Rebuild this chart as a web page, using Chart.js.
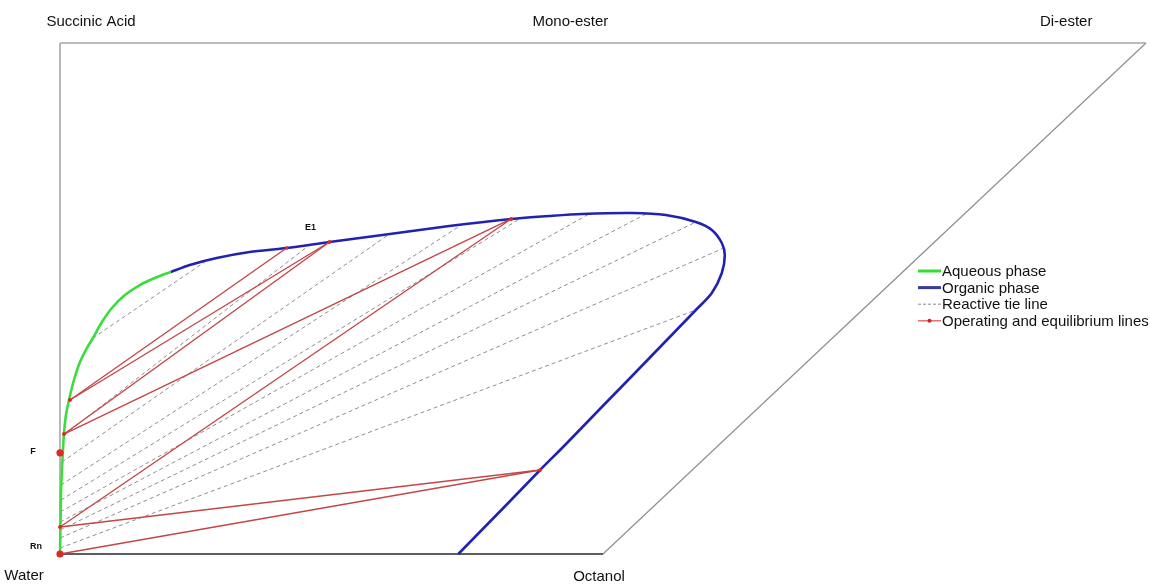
<!DOCTYPE html>
<html>
<head>
<meta charset="utf-8">
<script src="https://cdn.jsdelivr.net/npm/chart.js@4/dist/chart.umd.min.js"></script>
<style>
  html, body { margin: 0; padding: 0; background: #fff; }
  #wrap { position: relative; width: 1150px; height: 584px; }
</style>
</head>
<body>
<div id="wrap"><canvas id="myChart"></canvas></div>
<script>
// Diagram corners (x: 0..2, y: 0..1)
const frameX = [0, 1, 2, 0];   // Water, Octanol, Di-ester, Succinic Acid
const frameY = [0, 0, 1, 1];

// Aqueous phase boundary (green)
const aqueousX = [0, 0.001, 0.002, 0.004, 0.0055, 0.0074, 0.011, 0.0165, 0.0257, 0.0368, 0.0496, 0.0607, 0.0772, 0.0956, 0.1195, 0.147, 0.1746, 0.204];
const aqueousY = [0, 0.0665, 0.125, 0.174, 0.2035, 0.2368, 0.272, 0.301, 0.3405, 0.3757, 0.4031, 0.4227, 0.454, 0.4814, 0.5068, 0.5264, 0.5401, 0.5519];

// Organic phase boundary (blue)
const organicX = [0.204, 0.239, 0.2886, 0.3493, 0.4173, 0.4963, 0.5938, 0.7169, 0.8309, 0.9007, 0.9614, 1.0533, 1.1158, 1.171, 1.2004, 1.2188, 1.2243, 1.2188, 1.2004, 1.171, 1.1176, 1.0588, 0.9871, 0.9301, 0.8842, 0.8254, 0.7335];
const organicY = [0.5519, 0.5656, 0.5793, 0.591, 0.5988, 0.6106, 0.6243, 0.6419, 0.6556, 0.6614, 0.6654, 0.6673, 0.6634, 0.6497, 0.6341, 0.6086, 0.5851, 0.5499, 0.5108, 0.4775, 0.4188, 0.3542, 0.2759, 0.2133, 0.1644, 0.0998, 0];

// Reactive tie lines: start on aqueous side, end on organic side
const tieStartX = [0.0607, 0.0074, 0.0037, 0.0018, 0.0018, 0.0005, 0.0003, 0.0002, 0.0001, 0];
const tieStartY = [0.4227, 0.2329, 0.18, 0.135, 0.1057, 0.0822, 0.0626, 0.047, 0.0313, 0.0117];
const tieEndX = [0.2665, 0.4596, 0.6066, 0.739, 0.8493, 0.9743, 1.079, 1.171, 1.2224, 1.171];
const tieEndY = [0.5714, 0.6047, 0.6262, 0.6438, 0.6575, 0.6654, 0.6654, 0.6497, 0.5988, 0.4775];

// Operating / equilibrium points
const opNames = ['F', 'Rn', 'R1', 'P1', 'P2', 'E0', 'E1', 'E2', 'E3'];
const opX = [0, 0, 0, 0.0074, 0.0184, 0.4173, 0.4963, 0.8309, 0.8842];
const opY = [0.198, 0, 0.0528, 0.2348, 0.3014, 0.5988, 0.6106, 0.6556, 0.1644];
// segments as pairs of point indices
const opFrom = [4, 4, 3, 3, 2, 2, 1];
const opTo   = [5, 6, 6, 7, 7, 8, 8];

const pts = (xs, ys) => xs.map((x, i) => ({ x: x, y: ys[i] }));

const RED_LINE = '#c44646';
const RED_DOT = '#e02626';
const GREEN = '#3ddc3d';
const BLUE = '#2222b0';
const TIE = '#8e8e8e';

const datasets = [];

// big labelled points F and Rn
datasets.push({
  data: [0, 1].map(i => ({ x: opX[i], y: opY[i] })),
  showLine: false, pointRadius: 3.6, pointBackgroundColor: RED_DOT, pointBorderWidth: 0
});

// red operating lines
opFrom.forEach((a, k) => {
  const b = opTo[k];
  datasets.push({
    data: [{ x: opX[a], y: opY[a] }, { x: opX[b], y: opY[b] }],
    showLine: true, borderColor: RED_LINE, borderWidth: 1.4,
    pointRadius: 1.8, pointBackgroundColor: RED_DOT, pointBorderWidth: 0
  });
});

datasets.push({
  data: pts(aqueousX, aqueousY), showLine: true, borderColor: GREEN,
  borderWidth: 2.6, pointRadius: 0, tension: 0.3
});
datasets.push({
  data: pts(organicX, organicY), showLine: true, borderColor: BLUE,
  borderWidth: 2.6, pointRadius: 0, tension: 0.3
});

tieStartX.forEach((x, k) => {
  datasets.push({
    data: [{ x: x, y: tieStartY[k] }, { x: tieEndX[k], y: tieEndY[k] }],
    showLine: true, borderColor: TIE, borderWidth: 1, borderDash: [4, 3], pointRadius: 0
  });
});

// frame of the diagram
const frameStyle = [
  [3, 0, '#b8b8b8', 2],   // left edge
  [3, 2, '#a4a4a4', 1.5], // top edge
  [0, 1, '#5e5e5e', 2.2], // bottom edge
  [1, 2, '#8e8e8e', 1.2]  // diagonal
];
frameStyle.forEach(f => {
  datasets.push({
    data: [{ x: frameX[f[0]], y: frameY[f[0]] }, { x: frameX[f[1]], y: frameY[f[1]] }],
    showLine: true, borderColor: f[2], borderWidth: f[3], pointRadius: 0
  });
});
datasets.forEach(d => { d.clip = false; });

// text labels on the diagram
const cornerLabels = [
  { t: 'Succinic Acid', x: 0, y: 1, dx: 31, dy: -21 },
  { t: 'Mono-ester', x: 0.94, y: 1, dx: 0, dy: -21 },
  { t: 'Di-ester', x: 1.853, y: 1, dx: 0, dy: -21 },
  { t: 'Water', x: 0, y: 0, dx: -36, dy: 22 },
  { t: 'Octanol', x: 1, y: 0, dx: -4, dy: 23 }
];
const pointLabels = [
  { t: 'F', x: 0, y: 0.198, dx: -27, dy: -1 },
  { t: 'Rn', x: 0, y: 0, dx: -24, dy: -7 },
  { t: 'E1', x: 0.4614, y: 0.638, dx: 0, dy: 0 }
];
const legendItems = [
  { t: 'Aqueous phase', color: '#2fe02f', w: 3, dash: [], dot: false },
  { t: 'Organic phase', color: '#3a3a9e', w: 3, dash: [], dot: false },
  { t: 'Reactive tie line', color: '#8a8a8a', w: 1, dash: [3, 2], dot: false },
  { t: 'Operating and equilibrium lines', color: '#e05a5a', w: 1.3, dash: [], dot: true }
];

const labelPlugin = {
  id: 'labels',
  afterDraw(chart) {
    const ctx = chart.ctx;
    const xs = chart.scales.x, ys = chart.scales.y;
    ctx.save();
    ctx.fillStyle = '#111';
    ctx.textAlign = 'center';
    ctx.textBaseline = 'middle';
    ctx.font = '15px "Liberation Sans", Arial, sans-serif';
    cornerLabels.forEach(l => {
      ctx.fillText(l.t, xs.getPixelForValue(l.x) + l.dx, ys.getPixelForValue(l.y) + l.dy);
    });
    ctx.font = 'bold 9px "Liberation Sans", Arial, sans-serif';
    pointLabels.forEach(l => {
      ctx.fillText(l.t, xs.getPixelForValue(l.x) + l.dx, ys.getPixelForValue(l.y) + l.dy);
    });

    // legend
    const lx = 918, ly = 271, step = 16.6;
    ctx.textAlign = 'left';
    ctx.font = '15px "Liberation Sans", Arial, sans-serif';
    legendItems.forEach((it, i) => {
      const y = ly + i * step;
      ctx.strokeStyle = it.color;
      ctx.lineWidth = it.w;
      ctx.setLineDash(it.dash);
      ctx.beginPath();
      ctx.moveTo(lx, y);
      ctx.lineTo(lx + 23, y);
      ctx.stroke();
      ctx.setLineDash([]);
      if (it.dot) {
        ctx.fillStyle = '#d42020';
        ctx.beginPath();
        ctx.arc(lx + 11.5, y, 2, 0, Math.PI * 2);
        ctx.fill();
      }
      ctx.fillStyle = '#111';
      ctx.fillText(it.t, lx + 24, y + 1);
    });
    ctx.restore();
  }
};

const ctx = document.getElementById('myChart').getContext('2d');
const myChart = new Chart(ctx, {
  type: 'scatter',
  data: { datasets: datasets },
  options: {
    responsive: true,
    maintainAspectRatio: false,
    animation: false,
    layout: { padding: { left: 60, right: 2, top: 43, bottom: 30 } },
    scales: {
      x: { type: 'linear', min: 0, max: 2, display: false },
      y: { type: 'linear', min: 0, max: 1, display: false }
    },
    plugins: {
      legend: { display: false },
      tooltip: { enabled: false }
    }
  },
  plugins: [labelPlugin]
});
</script>
</body>
</html>
